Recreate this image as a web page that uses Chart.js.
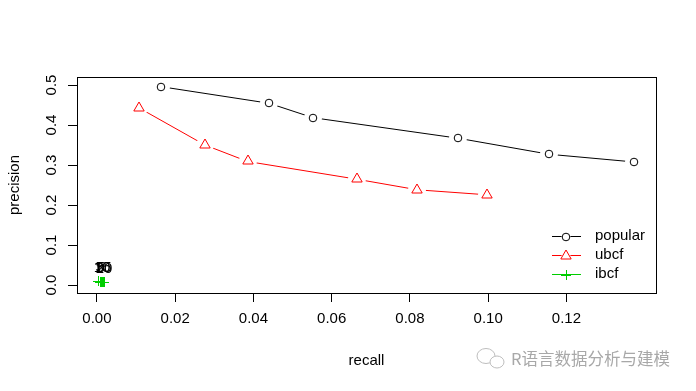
<!DOCTYPE html>
<html>
<head>
<meta charset="utf-8">
<title>precision / recall</title>
<script src="https://cdn.jsdelivr.net/npm/chart.js@4/dist/chart.umd.min.js"></script>
<style>
  html, body { margin: 0; padding: 0; background: #fff; }
  canvas { display: block; }
</style>
</head>
<body>
<canvas id="chart" width="696" height="391"></canvas>
<script>
// values
const seriesNames = ['popular', 'ubcf', 'ibcf']
const seriesColors = ['#000000', '#FF0000', '#00CD00']

const popularRecall = [0.0164, 0.0440, 0.0552, 0.0924, 0.1156, 0.1374]
const popularPrecision = [0.4958, 0.4543, 0.4183, 0.3668, 0.3268, 0.3075]

const ubcfRecall = [0.0108, 0.0276, 0.0385, 0.0664, 0.0819, 0.0997]
const ubcfPrecision = [0.4425, 0.3500, 0.3088, 0.2645, 0.2380, 0.2255]

const ibcfRecall = [0.0003, 0.0007, 0.0010, 0.0013, 0.0016, 0.0018]
const ibcfPrecision = [0.0090, 0.0082, 0.0076, 0.0071, 0.0068, 0.0065]

const nLabels = ['1', '3', '5', '10', '15', '20']

const xTicks = [0, 0.02, 0.04, 0.06, 0.08, 0.10, 0.12]
const yTicks = [0, 0.1, 0.2, 0.3, 0.4, 0.5]

const FONT = '"Liberation Sans", Arial, Helvetica, sans-serif'
Chart.defaults.font.family = FONT
Chart.defaults.font.size = 15
Chart.defaults.color = '#000'

const toPoints = (xs, ys) => xs.map((x, i) => ({ x, y: ys[i] }))

// R style markers (type = "b": the line stops short of each symbol)
function makeMarker(shape, color, gap) {
  const size = 22
  const c = document.createElement('canvas')
  c.width = size
  c.height = size
  const g = c.getContext('2d')
  const m = size / 2
  if (gap > 0) {
    g.fillStyle = '#fff'
    g.beginPath()
    g.arc(m, m, gap, 0, Math.PI * 2)
    g.fill()
  }
  g.strokeStyle = color
  g.lineWidth = 1
  g.beginPath()
  if (shape === 'circle') {
    g.arc(m, m, 3.8, 0, Math.PI * 2)
  } else if (shape === 'triangle') {
    const r = 6
    g.moveTo(m, m - r)
    g.lineTo(m + r * 0.866, m + r / 2)
    g.lineTo(m - r * 0.866, m + r / 2)
    g.closePath()
  } else {
    g.moveTo(m - 5, m + 0.5)
    g.lineTo(m + 5, m + 0.5)
    g.moveTo(m + 0.5, m - 5)
    g.lineTo(m + 0.5, m + 5)
  }
  g.stroke()
  return c
}

const shapes = ['circle', 'triangle', 'plus']
const plotMarkers = [makeMarker('circle', seriesColors[0], 9), makeMarker('triangle', seriesColors[1], 9), makeMarker('plus', seriesColors[2], 0)]
const legendMarkers = shapes.map((s, i) => makeMarker(s, seriesColors[i], i === 2 ? 0 : 4.5))

// keep the bitmap markers crisp when they land on half pixels
const crispPlugin = {
  id: 'crisp',
  beforeDatasetsDraw(chart) { chart.ctx.imageSmoothingEnabled = false },
  afterDatasetsDraw(chart) { chart.ctx.imageSmoothingEnabled = true }
}

const boxPlugin = {
  id: 'box',
  afterDraw(chart) {
    const { ctx, chartArea: a } = chart
    ctx.save()
    ctx.strokeStyle = '#000'
    ctx.lineWidth = 1
    ctx.strokeRect(a.left + 0.5, a.top + 0.5, a.right - a.left, a.bottom - a.top)
    ctx.restore()
  }
}

const annotatePlugin = {
  id: 'annotate',
  afterDatasetsDraw(chart) {
    const ctx = chart.ctx
    const meta = chart.getDatasetMeta(2)
    ctx.save()
    ctx.font = '15px ' + FONT
    ctx.fillStyle = '#000'
    ctx.textAlign = 'center'
    ctx.textBaseline = 'middle'
    meta.data.forEach((pt, i) => ctx.fillText(nLabels[i], pt.x, pt.y - 14))
    ctx.restore()
  }
}

const legendPlugin = {
  id: 'rlegend',
  afterDraw(chart) {
    const { ctx, chartArea: a } = chart
    ctx.save()
    ctx.font = '15px ' + FONT
    ctx.textBaseline = 'middle'
    ctx.textAlign = 'left'
    seriesNames.forEach((name, i) => {
      const y = Math.round(a.bottom - 57 + i * 19)
      ctx.strokeStyle = seriesColors[i]
      ctx.lineWidth = 1
      ctx.beginPath()
      ctx.moveTo(a.right - 104, y + 0.5)
      ctx.lineTo(a.right - 75, y + 0.5)
      ctx.stroke()
      const mk = legendMarkers[i]
      ctx.drawImage(mk, Math.round(a.right - 90 - mk.width / 2), Math.round(y + 0.5 - mk.height / 2))
      ctx.fillStyle = '#000'
      ctx.fillText(name, a.right - 61, y)
    })
    ctx.restore()
  }
}

const watermarkPlugin = {
  id: 'watermark',
  afterDraw(chart) {
    const ctx = chart.ctx
    ctx.save()
    ctx.strokeStyle = '#bdbdbd'
    ctx.lineWidth = 1
    ctx.beginPath()
    ctx.ellipse(486, 356, 9, 7.5, 0, 0, Math.PI * 2)
    ctx.stroke()
    ctx.fillStyle = '#fff'
    ctx.beginPath()
    ctx.ellipse(497, 362, 7, 6, 0, 0, Math.PI * 2)
    ctx.fill()
    ctx.stroke()
    ctx.fillStyle = '#a8a8a8'
    ctx.font = '16.5px "Noto Sans CJK SC", sans-serif'
    ctx.textBaseline = 'middle'
    ctx.fillText('R语言数据分析与建模', 511, 359)
    ctx.restore()
  }
}

const axisGrid = { drawOnChartArea: false, tickLength: 9, color: '#000', lineWidth: 1 }

new Chart(document.getElementById('chart'), {
  type: 'scatter',
  data: {
    datasets: [
      { label: seriesNames[0], data: toPoints(popularRecall, popularPrecision) },
      { label: seriesNames[1], data: toPoints(ubcfRecall, ubcfPrecision) },
      { label: seriesNames[2], data: toPoints(ibcfRecall, ibcfPrecision) }
    ].map((ds, i) => ({
      ...ds,
      showLine: true,
      borderColor: seriesColors[i],
      backgroundColor: seriesColors[i],
      borderWidth: 1,
      pointStyle: plotMarkers[i],
      pointRadius: 4,
      tension: 0
    }))
  },
  options: {
    responsive: false,
    animation: false,
    devicePixelRatio: 1,
    layout: { padding: { top: 77, right: 40, bottom: 0, left: 0 } },
    plugins: {
      legend: { display: false },
      tooltip: { enabled: false }
    },
    scales: {
      x: {
        type: 'linear',
        min: -0.0051,
        max: 0.1429,
        afterBuildTicks: (s) => { s.ticks = xTicks.map(v => ({ value: v })) },
        afterFit: (s) => { s.height = 98 },
        grid: axisGrid,
        border: { color: '#000' },
        ticks: { callback: (v) => v.toFixed(2), padding: 8, autoSkip: false, maxRotation: 0 },
        title: { display: true, text: 'recall', padding: { top: 0, bottom: 21 } }
      },
      y: {
        type: 'linear',
        min: -0.02,
        max: 0.52,
        afterBuildTicks: (s) => { s.ticks = yTicks.map(v => ({ value: v })) },
        afterFit: (s) => { s.width = 77 },
        grid: axisGrid,
        border: { color: '#000' },
        ticks: { callback: (v) => v.toFixed(1), minRotation: 90, maxRotation: 90, crossAlign: 'center', padding: 6, autoSkip: false },
        title: { display: true, text: 'precision', padding: { top: 6, bottom: 0 } }
      }
    }
  },
  plugins: [crispPlugin, boxPlugin, annotatePlugin, legendPlugin, watermarkPlugin]
})
</script>
</body>
</html>
